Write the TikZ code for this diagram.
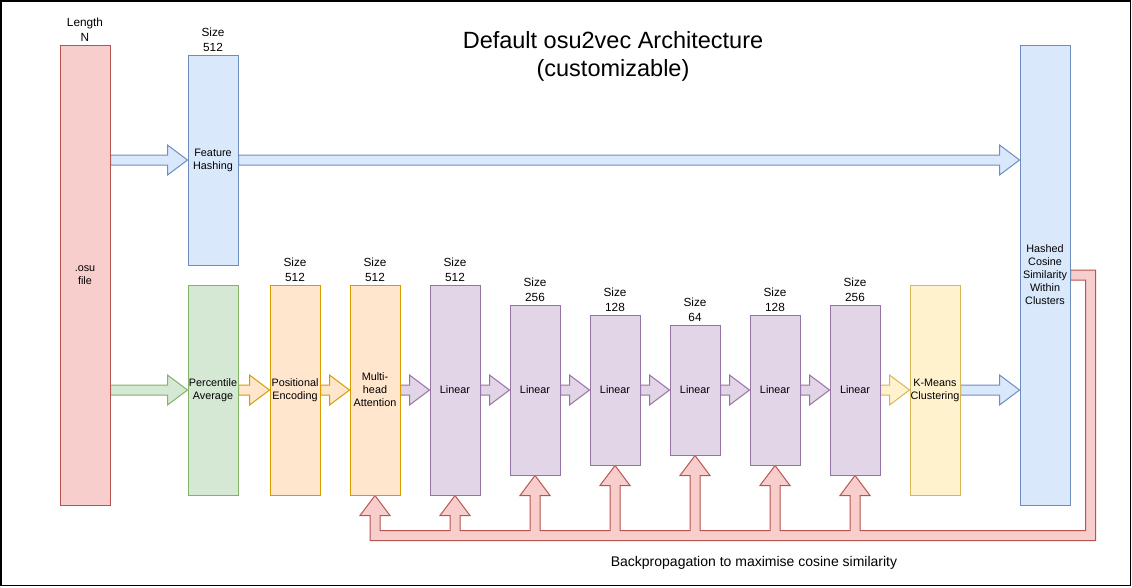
\documentclass[tikz,border=0pt]{standalone}
\usepackage{fontspec}
\setmainfont{Liberation Sans}
\usetikzlibrary{calc,backgrounds}
\definecolor{redF}{HTML}{F8CECC}\definecolor{redD}{HTML}{B85450}
\definecolor{blueF}{HTML}{DAE8FC}\definecolor{blueD}{HTML}{6C8EBF}
\definecolor{greenF}{HTML}{D5E8D4}\definecolor{greenD}{HTML}{82B366}
\definecolor{orangeF}{HTML}{FFE6CC}\definecolor{orangeD}{HTML}{D79B00}
\definecolor{purpleF}{HTML}{E1D5E7}\definecolor{purpleD}{HTML}{9673A6}
\definecolor{yellowF}{HTML}{FFF2CC}\definecolor{yellowD}{HTML}{D6B656}
\newcommand\flexarr[3]{\draw[#1] ($(#2)+(0,-5)$) -- ($(#3)+(-20,-5)$) -- ($(#3)+(-20,-15)$) -- (#3) -- ($(#3)+(-20,15)$) -- ($(#3)+(-20,5)$) -- ($(#2)+(0,5)$) -- cycle;}
\begin{document}
\begin{tikzpicture}[x=1pt,y=-1pt,
  box/.style={draw, line width=1pt, minimum width=50pt, inner sep=0pt, align=center,
    font=\fontsize{10.8}{13}\selectfont},
  redbox/.style={box, fill=redF, draw=redD},
  bluebox/.style={box, fill=blueF, draw=blueD},
  greenbox/.style={box, fill=greenF, draw=greenD},
  orangebox/.style={box, fill=orangeF, draw=orangeD},
  purplebox/.style={box, fill=purpleF, draw=purpleD},
  yellowbox/.style={box, fill=yellowF, draw=yellowD},
  arr/.style={line width=1pt, line join=miter},
  blueA/.style={arr, fill=blueF, draw=blueD},
  greenA/.style={arr, fill=greenF, draw=greenD},
  orangeA/.style={arr, fill=orangeF, draw=orangeD},
  purpleA/.style={arr, fill=purpleF, draw=purpleD},
  yellowA/.style={arr, fill=yellowF, draw=yellowD},
  redA/.style={arr, fill=redF, draw=redD},
  sizelab/.style={anchor=south, inner sep=0pt, align=center, font=\fontsize{11.8}{14.4}\selectfont},
  ]
\useasboundingbox (0,0) rectangle (1132,587);

% nodes
\node[redbox, minimum height=460pt] (osu) at (85,275) {.osu\\file};
\node[bluebox, minimum height=210pt] (fh) at (213,160) {Feature\\Hashing};
\node[bluebox, minimum height=460pt] (hc) at (1045,275) {Hashed\\Cosine\\Similarity\\Within\\Clusters};
\node[greenbox, minimum height=210pt] (pa) at (213,390) {Percentile\\Average};
\node[orangebox, minimum height=210pt] (pe) at (295,390) {Positional\\Encoding};
\node[orangebox, minimum height=210pt] (mh) at (375,390) {Multi-\\head\\Attention};
\node[purplebox, minimum height=210pt] (l1) at (455,390) {Linear};
\node[purplebox, minimum height=170pt] (l2) at (535,390) {Linear};
\node[purplebox, minimum height=150pt] (l3) at (615,390) {Linear};
\node[purplebox, minimum height=130pt] (l4) at (695,390) {Linear};
\node[purplebox, minimum height=150pt] (l5) at (775,390) {Linear};
\node[purplebox, minimum height=170pt] (l6) at (855,390) {Linear};
\node[yellowbox, minimum height=210pt] (km) at (935,390) {K-Means\\Clustering};

% size labels
\node[sizelab] (osuL) at ($(osu.north)+(0,-3)$) {Length\\N};
\node[sizelab] (fhL) at ($(fh.north)+(0,-3)$) {Size\\512};
\node[sizelab] (peL) at ($(pe.north)+(0,-3)$) {Size\\512};
\node[sizelab] (mhL) at ($(mh.north)+(0,-3)$) {Size\\512};
\node[sizelab] (l1L) at ($(l1.north)+(0,-3)$) {Size\\512};
\node[sizelab] (l2L) at ($(l2.north)+(0,-3)$) {Size\\256};
\node[sizelab] (l3L) at ($(l3.north)+(0,-3)$) {Size\\128};
\node[sizelab] (l4L) at ($(l4.north)+(0,-3)$) {Size\\64};
\node[sizelab] (l5L) at ($(l5.north)+(0,-3)$) {Size\\128};
\node[sizelab] (l6L) at ($(l6.north)+(0,-3)$) {Size\\256};

% title and caption
\node[inner sep=0pt, align=center, font=\fontsize{23.5}{28}\selectfont] (title) at (613,56.5)
  {Default osu2vec Architecture\\(customizable)};
\node[inner sep=0pt, anchor=base, font=\fontsize{14}{17}\selectfont] (caption) at (754,566)
  {Backpropagation to maximise cosine similarity};

\coordinate (o1) at (osu.east |- fh.west);
\coordinate (o2) at (osu.east |- pa.west);
\coordinate (h1) at (hc.west |- fh.east);
\coordinate (h2) at (hc.west |- km.east);

\begin{scope}[on background layer]
\fill[white] (0,0) rectangle (1132,587);
\flexarr{blueA}{o1}{fh.west}
\flexarr{blueA}{fh.east}{h1}
\flexarr{greenA}{o2}{pa.west}
\flexarr{orangeA}{pa.east}{pe.west}
\flexarr{orangeA}{pe.east}{mh.west}
\flexarr{purpleA}{mh.east}{l1.west}
\flexarr{purpleA}{l1.east}{l2.west}
\flexarr{purpleA}{l2.east}{l3.west}
\flexarr{purpleA}{l3.east}{l4.west}
\flexarr{purpleA}{l4.east}{l5.west}
\flexarr{purpleA}{l5.east}{l6.west}
\flexarr{yellowA}{l6.east}{km.west}
\flexarr{blueA}{km.east}{h2}
% backpropagation arrow
\draw[redA] let \p1=(mh.south), \p2=(l1.south), \p3=(l2.south), \p4=(l3.south),
  \p5=(l4.south), \p6=(l5.south), \p7=(l6.south), \p8=(hc.east), \p9=(hc.south) in
  (\x8,\y8+5pt) -- (\x8+25pt,\y8+5pt) -- (\x8+25pt,\y9-35pt) -- (\x1-5pt,\y9-35pt)
  -- (\x1-5pt,\y1-20pt) -- (\x1-15pt,\y1-20pt) -- (\x1,\y1) -- (\x1+15pt,\y1-20pt) -- (\x1+5pt,\y1-20pt) -- (\x1+5pt,\y9-25pt)
  -- (\x2-5pt,\y9-25pt) -- (\x2-5pt,\y2-20pt) -- (\x2-15pt,\y2-20pt) -- (\x2,\y2) -- (\x2+15pt,\y2-20pt) -- (\x2+5pt,\y2-20pt) -- (\x2+5pt,\y9-25pt)
  -- (\x3-5pt,\y9-25pt) -- (\x3-5pt,\y3-20pt) -- (\x3-15pt,\y3-20pt) -- (\x3,\y3) -- (\x3+15pt,\y3-20pt) -- (\x3+5pt,\y3-20pt) -- (\x3+5pt,\y9-25pt)
  -- (\x4-5pt,\y9-25pt) -- (\x4-5pt,\y4-20pt) -- (\x4-15pt,\y4-20pt) -- (\x4,\y4) -- (\x4+15pt,\y4-20pt) -- (\x4+5pt,\y4-20pt) -- (\x4+5pt,\y9-25pt)
  -- (\x5-5pt,\y9-25pt) -- (\x5-5pt,\y5-20pt) -- (\x5-15pt,\y5-20pt) -- (\x5,\y5) -- (\x5+15pt,\y5-20pt) -- (\x5+5pt,\y5-20pt) -- (\x5+5pt,\y9-25pt)
  -- (\x6-5pt,\y9-25pt) -- (\x6-5pt,\y6-20pt) -- (\x6-15pt,\y6-20pt) -- (\x6,\y6) -- (\x6+15pt,\y6-20pt) -- (\x6+5pt,\y6-20pt) -- (\x6+5pt,\y9-25pt)
  -- (\x7-5pt,\y9-25pt) -- (\x7-5pt,\y7-20pt) -- (\x7-15pt,\y7-20pt) -- (\x7,\y7) -- (\x7+15pt,\y7-20pt) -- (\x7+5pt,\y7-20pt) -- (\x7+5pt,\y9-25pt)
  -- (\x8+15pt,\y9-25pt) -- (\x8+15pt,\y8-5pt) -- (\x8,\y8-5pt) -- cycle;
\end{scope}

\draw[line width=1.5pt] (0.75,0.75) rectangle (1130.25,585.25);
\end{tikzpicture}
\end{document}
